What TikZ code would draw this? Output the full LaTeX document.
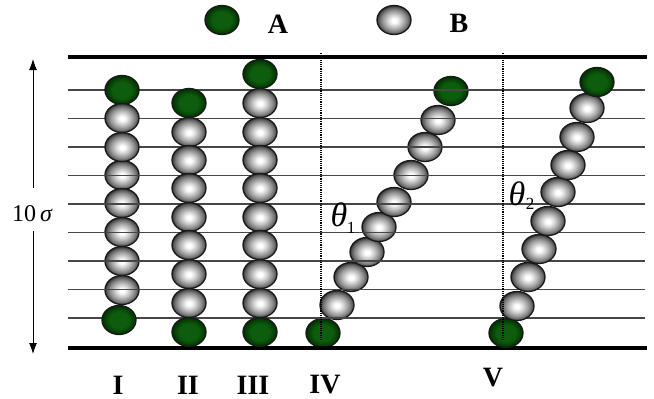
\documentclass[tikz,border=0pt]{standalone}
\usepackage{fontspec}
\setmainfont{Liberation Serif}
\usetikzlibrary{shapes.geometric,arrows.meta}

\definecolor{agreen}{RGB}{14,92,14}
\definecolor{agreendark}{RGB}{0,48,0}
\definecolor{rungcol}{RGB}{70,70,70}

% bead shadings (the path's border sits at 25bp): white-centred grey bead (B)
% and dark green bead (A)
\pgfdeclareradialshading{beadBshade}{\pgfpoint{0bp}{-1bp}}{%
  color(0bp)=(white); color(3.5bp)=(white); color(11bp)=(black!22);
  color(18bp)=(black!45); color(23bp)=(black!66); color(25bp)=(black!80);
  color(50bp)=(black!80)}
\pgfdeclareradialshading{beadAshade}{\pgfpoint{0bp}{0bp}}{%
  color(0bp)=(agreen); color(14bp)=(agreen); color(25bp)=(agreendark);
  color(50bp)=(agreendark)}

\tikzset{
  bead/.style={ellipse, draw=black!90, line width=1.3pt, inner sep=0pt,
               minimum width=34pt, minimum height=29pt},
  beadA/.style={bead, shading=beadAshade},
  beadB/.style={bead, shading=beadBshade},
  rung/.style={draw=rungcol, line width=1.5pt},
  wall/.style={draw=black, line width=4.5pt},
  guide/.style={draw=black, line width=2pt, dash pattern=on 1.2pt off 1pt},
  span/.style={draw=black, line width=0.9pt, -{Latex[length=11pt,width=8pt]}},
  colname/.style={font=\fontsize{28pt}{28pt}\selectfont\bfseries, inner sep=0pt},
  legendtext/.style={font=\fontsize{28pt}{28pt}\selectfont\bfseries, inner sep=0pt},
  angle/.style={font=\fontsize{34pt}{34pt}\selectfont\itshape, inner sep=0pt},
  anglesub/.style={font=\fontsize{17pt}{17pt}\selectfont, inner sep=0pt}
}

\begin{document}
\begin{tikzpicture}[x=1pt, y=-1pt]
\useasboundingbox (0,0) rectangle (654,399);

% ---- legend ----
\node[beadA] (legA) at (222,20) {};
\node[legendtext] (legAtext) at (278,24) {A};
\node[beadB] (legB) at (394,20) {};
\node[legendtext] (legBtext) at (459,23) {B};

% ---- chain IV (tilted, lies behind the grid lines) ----
\foreach \x/\y [count=\k] in {323/333, 337/305, 351/277, 367/252, 379/227,
                              394/202, 411/175, 425/147, 438/120} {
  \ifnum\k=1 \node[beadA] (IV-\k) at (\x,\y) {};
  \else      \node[beadB] (IV-\k) at (\x,\y) {}; \fi
}
\node[beadA] (IV-10) at (451,91) {};

% ---- chain I, lower grey beads (behind the grid lines) ----
\foreach \y [count=\k from 4] in {175,203,232,261,290}
  \node[beadB] (I-\k) at (122,\y) {};

% ---- grid lines ----
\foreach \y [count=\k] in {90,118.5,147,175.5,204,232.5,261,289.5,318}
  \draw[rung] (68,\y) -- (645,\y);
\draw[wall] (68,57) -- (647,57);
\draw[wall] (68,348) -- (647,348);

% ---- chain I, remaining beads ----
\node[beadA] (I-1) at (122,90) {};
\node[beadB] (I-2) at (122,118) {};
\node[beadB] (I-3) at (122,147) {};
\node[beadA] (I-9) at (119,320) {};

% ---- chain II ----
\node[beadA] (II-1) at (189,103) {};
\foreach \y [count=\k from 2] in {132,160,188,217,245,274,303}
  \node[beadB] (II-\k) at (189,\y) {};
\node[beadA] (II-9) at (189,332) {};

% ---- chain III ----
\node[beadA] (III-1) at (260,74) {};
\foreach \y [count=\k from 2] in {103,132,160,188,217,245,274,303}
  \node[beadB] (III-\k) at (260,\y) {};
\node[beadA] (III-10) at (260,332) {};

% ---- chain V ----
\node[beadA] (V-1) at (506,333) {};
\foreach \x/\y [count=\k from 2] in {517/306, 528/277, 539/249, 548/221,
                                     558/192, 568/165, 577/137, 587/108}
  \node[beadB] (V-\k) at (\x,\y) {};
\node[beadA] (V-10) at (597,82) {};

% ---- vertical reference lines of the tilted chains ----
\coordinate (g4top) at (321,53);
\coordinate (g4bot) at (321,341);
\coordinate (g5top) at (503,53);
\coordinate (g5bot) at (503,341);
\draw[guide] (g4top) -- (g4bot);
\draw[guide] (g5top) -- (g5bot);

% ---- tilt angles ----
\node[angle] (th1) at (339,215) {θ};
\node[anglesub] (th1sub) at (351,228) {1};
\node[angle] (th2) at (517,194) {θ};
\node[anglesub] (th2sub) at (530,204) {2};

% ---- height marker ----
\node[font=\fontsize{24pt}{24pt}\selectfont, inner sep=0pt] (height) at (32,214)
  {10\,{\itshape σ}};
\coordinate (hUpFoot) at (33,188);
\coordinate (hUpTip) at (33,59);
\coordinate (hDnFoot) at (33,231);
\coordinate (hDnTip) at (33,354);
\draw[span] (hUpFoot) -- (hUpTip);
\draw[span] (hDnFoot) -- (hDnTip);

% ---- chain names ----
\node[colname] (nI) at (118,385) {I};
\node[colname] (nII) at (188,385) {II};
\node[colname] (nIII) at (253,385) {III};
\node[colname] (nIV) at (325,385) {IV};
\node[colname] (nV) at (493,378) {V};
\end{tikzpicture}
\end{document}
